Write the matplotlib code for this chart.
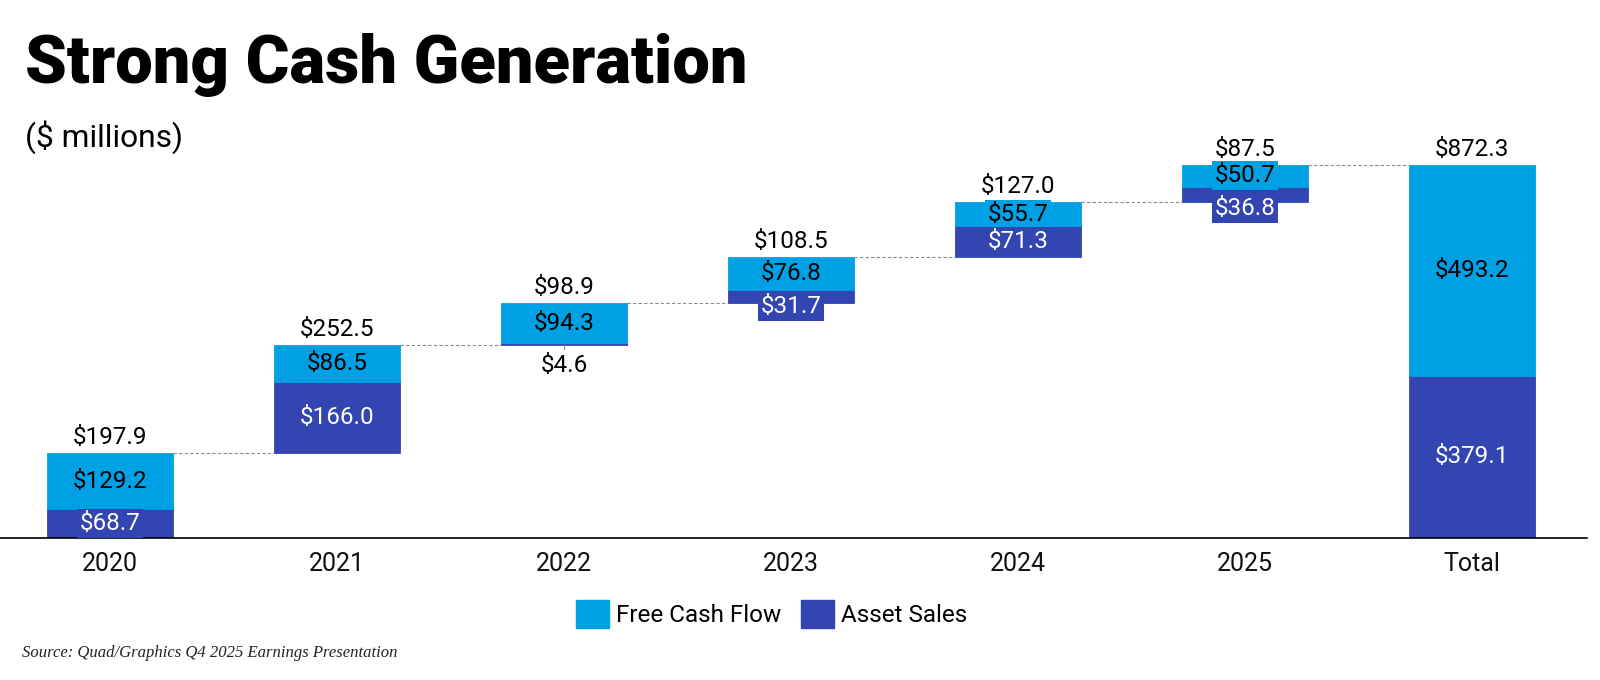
import matplotlib
matplotlib.use('Agg')
import matplotlib.pyplot as plt
from matplotlib.patches import Patch

# ---------------- data ----------------
categories = ['2020', '2021', '2022', '2023', '2024', '2025', 'Total']
asset_sales = [68.7, 166.0, 4.6, 31.7, 71.3, 36.8]
free_cash_flow = [129.2, 86.5, 94.3, 76.8, 55.7, 50.7]
year_totals = [197.9, 252.5, 98.9, 108.5, 127.0, 87.5]
total_asset_sales = 379.1
total_free_cash_flow = 493.2
grand_total = 872.3

series_names = ['Free Cash Flow', 'Asset Sales']
title_text = 'Strong Cash Generation'
subtitle_text = '($ millions)'
source_text = 'Source: Quad/Graphics Q4 2025 Earnings Presentation'

# ---------------- style ----------------
FCF_COLOR = '#00A1E4'
AS_COLOR = '#3245B1'
plt.rcParams['font.family'] = ['Roboto', 'DejaVu Sans']

W, H = 1600, 680
fig = plt.figure(figsize=(W / 100, H / 100), dpi=100)
base_px, top_px, right_px = 538, 140, 1587
ax = fig.add_axes([0, (H - base_px) / H, right_px / W, (base_px - top_px) / H])
px_per_unit = 0.4276
ymax = (base_px - top_px) / px_per_unit
ax.set_ylim(0, ymax)
ax.set_xlim(-0.485, 6.507)


def px(v):
    return v / px_per_unit


bar_w = 0.555
x = list(range(len(categories)))

# waterfall bases
bases = []
cum = 0.0
for t in year_totals:
    bases.append(cum)
    cum += t

as_bottoms = bases + [0.0]
as_heights = asset_sales + [total_asset_sales]
fcf_bottoms = [b + a for b, a in zip(bases, asset_sales)] + [total_asset_sales]
fcf_heights = free_cash_flow + [total_free_cash_flow]
tops = [b + t for b, t in zip(bases, year_totals)] + [grand_total]
top_labels = year_totals + [grand_total]

ax.bar(x, as_heights, bottom=as_bottoms, width=bar_w, color=AS_COLOR,
       edgecolor=AS_COLOR, linewidth=0.6, zorder=2)
ax.bar(x, fcf_heights, bottom=fcf_bottoms, width=bar_w, color=FCF_COLOR,
       edgecolor=FCF_COLOR, linewidth=0.6, zorder=2)

# connectors
for i in range(len(categories) - 1):
    y = tops[i]
    ax.plot([x[i] + bar_w / 2, x[i + 1] - bar_w / 2], [y, y], color='#8c8c8c',
            lw=0.8, ls=(0, (3, 2)), zorder=1)

LABEL_FS = 17.5
# labels
for i in range(len(categories)):
    top = tops[i]
    ax.text(x[i], top + px(9), f'${top_labels[i]:.1f}', ha='center',
            va='baseline', fontsize=LABEL_FS, color='black', zorder=4)
    # FCF
    fcf_c = fcf_bottoms[i] + fcf_heights[i] / 2
    ax.text(x[i], fcf_c, f'${fcf_heights[i]:.1f}', ha='center', va='center',
            fontsize=LABEL_FS, color='black', zorder=5,
            bbox=dict(boxstyle='square,pad=0.12', fc=FCF_COLOR, ec='none'))
    # Asset sales
    seg_px = as_heights[i] * px_per_unit
    as_c = as_bottoms[i] + as_heights[i] / 2
    lab = f'${as_heights[i]:.1f}'
    if seg_px >= 20:
        ax.text(x[i], as_c, lab, ha='center', va='center', fontsize=LABEL_FS,
                color='white', zorder=5,
                bbox=dict(boxstyle='square,pad=0.12', fc=AS_COLOR, ec='none'))
    elif seg_px >= 6:
        yc = min(as_c, fcf_c - px(33))
        ax.text(x[i], yc, lab, ha='center', va='center', fontsize=LABEL_FS,
                color='white', zorder=4,
                bbox=dict(boxstyle='square,pad=0.12', fc=AS_COLOR, ec='none'))
    else:
        b = as_bottoms[i]
        ax.plot([x[i], x[i]], [b, b - px(4)], color='#8c8c8c', lw=0.8, zorder=3)
        ax.text(x[i], b - px(20), lab, ha='center', va='center',
                fontsize=LABEL_FS, color='black', zorder=4)

# axes styling
for s in ['top', 'right', 'left']:
    ax.spines[s].set_visible(False)
ax.spines['bottom'].set_linewidth(1.2)
ax.spines['bottom'].set_color('black')
ax.set_yticks([])
ax.set_xticks(x)
ax.set_xticklabels(categories)
ax.tick_params(axis='x', length=0, pad=10, labelsize=18, labelcolor='#111111')

# title & texts
title = fig.text(25 / W, 1 - 83 / H, title_text, ha='left', va='baseline',
                 fontsize=52, fontweight='black',
                 family=['Roboto', 'DejaVu Sans'], color='black')
subtitle = fig.text(25 / W, 1 - 137 / H, subtitle_text, ha='left', va='center',
                    fontsize=20, color='black')
fig.text(22 / W, 1 - 653 / H, source_text, ha='left', va='center',
         fontsize=12, style='italic', family=['Liberation Serif', 'DejaVu Serif'],
         color='#222222')

handles = [Patch(facecolor=FCF_COLOR, edgecolor=FCF_COLOR),
           Patch(facecolor=AS_COLOR, edgecolor=AS_COLOR)]
fig.legend(handles, series_names, loc='center',
           bbox_to_anchor=(771.5 / W, 1 - 614 / H), ncol=2, frameon=False,
           fontsize=17.5, handlelength=1.35, handleheight=1.35,
           handletextpad=0.3, columnspacing=0.8, borderaxespad=0)

# fit title/subtitle widths to the reference
fig.canvas.draw()
r = fig.canvas.get_renderer()
for t, target in [(title, 723), (subtitle, 158)]:
    bb = t.get_window_extent(r)
    t.set_fontsize(t.get_fontsize() * target / bb.width)

fig.savefig('out.png', dpi=100)
